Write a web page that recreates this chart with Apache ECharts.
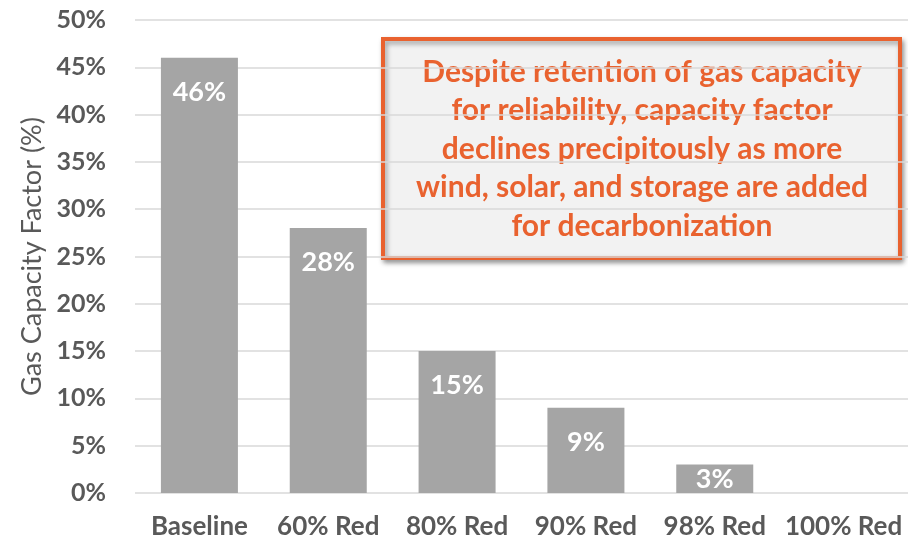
<!DOCTYPE html>
<html>
<head>
<meta charset="utf-8">
<title>Gas Capacity Factor</title>
<script src="https://cdn.jsdelivr.net/npm/echarts@6/dist/echarts.min.js"></script>
<style>
  html, body { margin: 0; padding: 0; background: #ffffff; }
  #chart { width: 908px; height: 543px; }
</style>
</head>
<body>
<div id="chart"></div>
<script>
// Scenario categories and gas capacity factor (%) for each
const categories = ['Baseline', '60% Red', '80% Red', '90% Red', '98% Red', '100% Red'];
const capacityFactor = [46, 28, 15, 9, 3, 0];

// Value axis range
const yMin = 0;
const yMax = 50;
const yStep = 5;

const axisTitle = 'Gas Capacity Factor (%)';
const calloutLines = [
  'Despite retention of gas capacity',
  'for reliability, capacity factor',
  'declines precipitously as more',
  'wind, solar, and storage are added',
  'for decarbonization'
];

const FONT = 'Lato, "Open Sans", sans-serif';
const TEXT_GREY = '#595959';
const BAR_GREY = '#a5a5a5';
const ACCENT = '#e9622f';

// Short bars keep their label at the bottom so it stays inside the bar
const barData = capacityFactor.map(v => {
  const item = { value: v };
  if (v === 0) item.label = { show: false };
  else if (v < 5) item.label = { position: 'insideBottom', distance: 0 };
  return item;
});

const chart = echarts.init(document.getElementById('chart'), null, { renderer: 'canvas' });

chart.setOption({
  backgroundColor: '#ffffff',
  animation: false,
  grid: { left: 135, right: -4, top: 20, bottom: 50 },
  xAxis: {
    type: 'category',
    data: categories,
    axisLine: { show: false },
    axisTick: { show: false },
    axisLabel: {
      interval: 0,
      color: TEXT_GREY,
      fontFamily: FONT,
      fontWeight: 'bold',
      fontSize: 26,
      margin: 21
    }
  },
  yAxis: {
    type: 'value',
    min: yMin,
    max: yMax,
    interval: yStep,
    name: axisTitle,
    nameLocation: 'middle',
    nameGap: 88,
    nameTextStyle: {
      color: TEXT_GREY,
      fontFamily: FONT,
      fontSize: 27
    },
    axisLine: { show: false },
    axisTick: { show: false },
    axisLabel: {
      color: TEXT_GREY,
      fontFamily: FONT,
      fontWeight: 'bold',
      fontSize: 25,
      margin: 29,
      formatter: '{value}%'
    },
    splitLine: { lineStyle: { color: '#d9d9d9', width: 1.5 } }
  },
  series: [{
    type: 'bar',
    data: barData,
    barWidth: 77,
    itemStyle: { color: BAR_GREY },
    label: {
      show: true,
      position: 'insideTop',
      distance: 21,
      color: '#ffffff',
      fontFamily: FONT,
      fontWeight: 'bold',
      fontSize: 27,
      formatter: p => p.value + '%'
    }
  }],
  graphic: [{
    type: 'group',
    left: 381,
    top: 37,
    children: [{
      type: 'rect',
      shape: { x: 2, y: 2, width: 517, height: 219 },
      style: {
        fill: '#f2f2f2',
        stroke: ACCENT,
        lineWidth: 4,
        shadowColor: 'rgba(0,0,0,0.35)',
        shadowBlur: 5,
        shadowOffsetX: 2,
        shadowOffsetY: 3
      }
    }, {
      type: 'text',
      x: 261,
      y: 112,
      style: {
        text: calloutLines.join('\n'),
        fill: ACCENT,
        font: 'bold 30px ' + FONT,
        lineHeight: 38.5,
        align: 'center',
        verticalAlign: 'middle'
      }
    }]
  }]
});
</script>
</body>
</html>
